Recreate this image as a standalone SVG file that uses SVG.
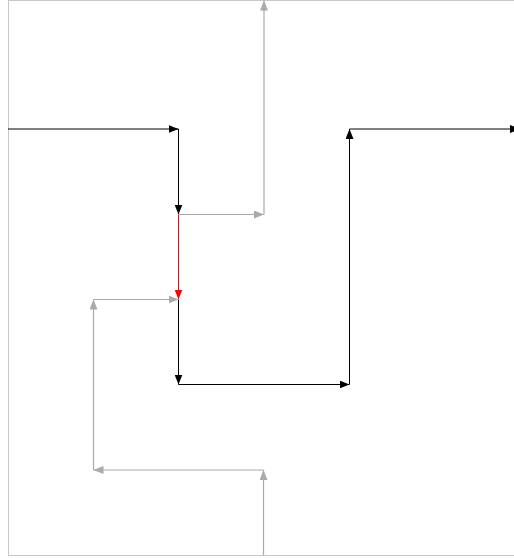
<svg xmlns="http://www.w3.org/2000/svg" width="514" height="558" viewBox="0 0 514 558">
<defs>
<marker id="ab" viewBox="0 0 10 8" refX="10" refY="4" markerWidth="10" markerHeight="8" markerUnits="userSpaceOnUse" orient="auto"><path d="M0,0 L10,4 L0,8 Z" fill="#000"/></marker>
<marker id="ar" viewBox="0 0 10 8" refX="10" refY="4" markerWidth="10" markerHeight="8" markerUnits="userSpaceOnUse" orient="auto"><path d="M0,0 L10,4 L0,8 Z" fill="#f00"/></marker>
<marker id="ag" viewBox="0 0 10 8" refX="10" refY="4" markerWidth="10" markerHeight="8" markerUnits="userSpaceOnUse" orient="auto"><path d="M0,0 L10,4 L0,8 Z" fill="#aaa"/></marker>
</defs>
<style>
.b{stroke:#000;stroke-width:1;fill:none;marker-end:url(#ab)}
.r{stroke:#f00;stroke-width:1;fill:none;marker-end:url(#ar)}
.g{stroke:#aaa;stroke-width:1.2;fill:none;marker-end:url(#ag)}
</style>
<rect id="frame" x="8.5" y="0.5" width="510" height="555" fill="#fff" stroke="#c8c8c8" stroke-width="1"/>
<g id="connectors">
<line class="b" x1="8" y1="129" x2="178.5" y2="129"/>
<line class="b" x1="178.5" y1="129" x2="178.5" y2="214.5"/>
<line class="r" x1="178.5" y1="214.5" x2="178.5" y2="299.5"/>
<line class="b" x1="178.5" y1="299.5" x2="178.5" y2="384.5"/>
<line class="b" x1="178.5" y1="384.5" x2="349.5" y2="384.5"/>
<line class="b" x1="349.5" y1="384.5" x2="349.5" y2="129"/>
<line class="b" x1="349.5" y1="129" x2="520" y2="129"/>
<line class="g" x1="178.5" y1="214.5" x2="264" y2="214.5"/>
<line class="g" x1="264" y1="214.5" x2="264" y2="0.5"/>
<line class="g" x1="263.5" y1="555.5" x2="263.5" y2="470"/>
<line class="g" x1="263.5" y1="470" x2="93.5" y2="470"/>
<line class="g" x1="93.5" y1="470" x2="93.5" y2="299.5"/>
<line class="g" x1="93.5" y1="299.5" x2="178.5" y2="299.5"/>
</g>
</svg>
